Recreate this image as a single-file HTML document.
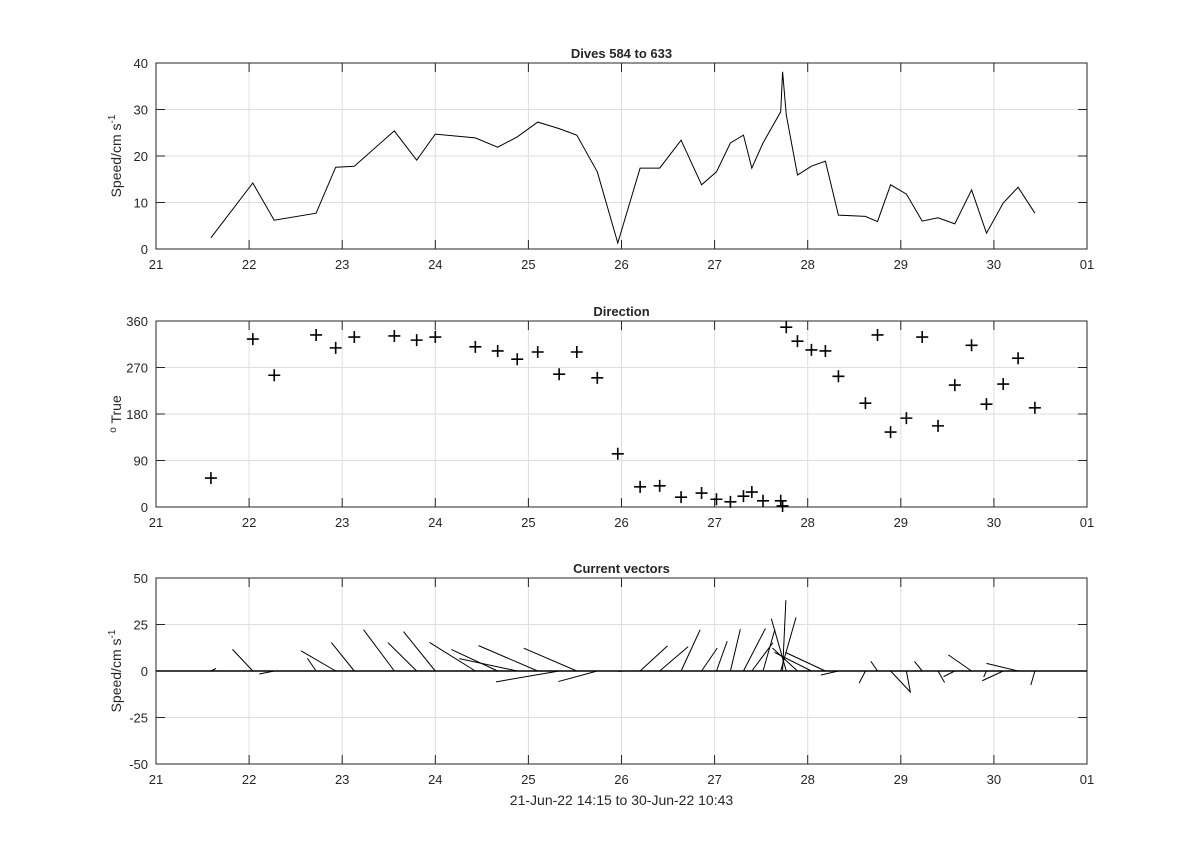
<!DOCTYPE html>
<html><head><meta charset="utf-8"><style>
body{margin:0;background:#fff;}
svg text{font-family:"Liberation Sans",Arial,sans-serif;fill:#262626;}
</style></head><body>
<svg id="fig" width="1200" height="859" viewBox="0 0 1200 859" xmlns="http://www.w3.org/2000/svg"></svg>
<script>
const times=[21.59,22.04,22.27,22.72,22.93,23.13,23.56,23.80,24.00,24.43,24.67,24.88,25.10,25.33,25.52,25.74,25.96,26.20,26.41,26.64,26.86,27.02,27.17,27.31,27.40,27.52,27.71,27.73,27.77,27.89,28.04,28.19,28.33,28.62,28.75,28.89,29.06,29.23,29.40,29.58,29.76,29.92,30.10,30.26,30.44];
const speeds=[2.4,14.2,6.2,7.7,17.6,17.8,25.4,19.1,24.7,23.9,21.9,24.1,27.3,25.9,24.5,16.6,1.3,17.4,17.4,23.4,13.8,16.6,22.8,24.5,17.4,22.8,29.5,38.1,28.8,15.9,17.8,18.9,7.3,7.0,5.9,13.8,11.8,6.0,6.7,5.4,12.7,3.4,9.9,13.3,7.7];
const dirs=[56,325,255,333,308,329,331,323,329,310,302,286,300,257,300,250,103,39,41,19,27,15,10,21,29,12,12,2,348,321,304,302,253,201,333,145,172,329,157,236,313,199,238,288,192];
const xTickLabels=["21","22","23","24","25","26","27","28","29","30","01"];
const speedTicks=[0,10,20,30,40];
const dirTicks=[0,90,180,270,360];
const vecTicks=[-50,-25,0,25,50];

const NS="http://www.w3.org/2000/svg";
const svg=document.getElementById('fig');
const X0=156,X1=1087;
const xs=t=>X0+(t-21)/10*(X1-X0);
function el(tag,attrs,parent){const e=document.createElementNS(NS,tag);for(const k in attrs)e.setAttribute(k,attrs[k]);(parent||svg).appendChild(e);return e;}

function axes(name,top,bot,ymin,ymax,yticks,title,ylabelHTML){
  const g=el('g',{});
  
  
  const ys=v=>bot-(v-ymin)/(ymax-ymin)*(bot-top);
  // grid
  for(let i=1;i<xTickLabels.length-1;i++){const x=xs(21+i);const l=el('line',{x1:x,x2:x,y1:top,y2:bot,stroke:'#dedede','stroke-width':1},g);}
  yticks.forEach(v=>{if(v===ymin||v===ymax)return;const y=ys(v);const l=el('line',{x1:X0,x2:X1,y1:y,y2:y,stroke:'#dedede','stroke-width':1},g);});
  // box
  const r=el('rect',{x:X0,y:top,width:X1-X0,height:bot-top,fill:'none',stroke:'#262626','stroke-width':1},g);
  
  xTickLabels.forEach((lab,i)=>{const x=xs(21+i);
    el('line',{x1:x,x2:x,y1:bot,y2:bot-9,stroke:'#262626'},g);el('line',{x1:x,x2:x,y1:top,y2:top+9,stroke:'#262626'},g);
    const t=el('text',{x:x,y:bot+20,'text-anchor':'middle','font-size':13},g);t.textContent=lab;
    });
  yticks.forEach(v=>{const y=ys(v);
    el('line',{x1:X0,x2:X0+9,y1:y,y2:y,stroke:'#262626'},g);el('line',{x1:X1,x2:X1-9,y1:y,y2:y,stroke:'#262626'},g);
    const t=el('text',{x:X0-8,y:y+5,'text-anchor':'end','font-size':13},g);t.textContent=v;
    });
  const tt=el('text',{x:(X0+X1)/2,y:top-5,'text-anchor':'middle','font-size':13,'font-weight':'bold',fill:'#000'},g);tt.textContent=title;
  
  const yl=el('text',{transform:`translate(${X0-35},${(top+bot)/2}) rotate(-90)`,'text-anchor':'middle','font-size':14},g);
  yl.innerHTML=ylabelHTML;
  
  return {g,ys};
}

// Speed panel
const a1=axes('speed-axes',63,249,0,40,speedTicks,'Dives 584 to 633','Speed/cm s<tspan dy="-6" font-size="10">-1</tspan>');
const pts=times.map((t,i)=>xs(t).toFixed(1)+','+a1.ys(speeds[i]).toFixed(1)).join(' ');
const pl=el('polyline',{points:pts,fill:'none',stroke:'#000','stroke-width':1},a1.g);


// Direction panel
const a2=axes('direction-axes',321,507,0,360,dirTicks,'Direction','<tspan dy="-5" font-size="10">o</tspan><tspan dy="5"> True</tspan>');
times.forEach((t,i)=>{const x=xs(t),y=a2.ys(dirs[i]);
  const p=el('path',{d:`M${x-6},${y}H${x+6}M${x},${y-6}V${y+6}`,stroke:'#000','stroke-width':1.6},a2.g);
  });

// Vector panel
const a3=axes('vector-axes',578,764,-50,50,vecTicks,'Current vectors','Speed/cm s<tspan dy="-6" font-size="10">-1</tspan>');
const zl=el('line',{x1:X0,x2:X1,y1:a3.ys(0),y2:a3.ys(0),stroke:'#000','stroke-width':1.6},a3.g);

const pxPerV=(764-578)/100, pxPerU=2.5;
times.forEach((t,i)=>{const r=dirs[i]*Math.PI/180;const u=speeds[i]*Math.sin(r),v=speeds[i]*Math.cos(r);
  const x=xs(t),y=a3.ys(0);
  const l=el('line',{x1:x,y1:y,x2:x+u*pxPerU,y2:y-v*pxPerV,stroke:'#000','stroke-width':1},a3.g);
  });
const xl=el('text',{x:(X0+X1)/2,y:805,'text-anchor':'middle','font-size':14});
xl.textContent='21-Jun-22 14:15 to 30-Jun-22 10:43';

</script>
</body></html>
